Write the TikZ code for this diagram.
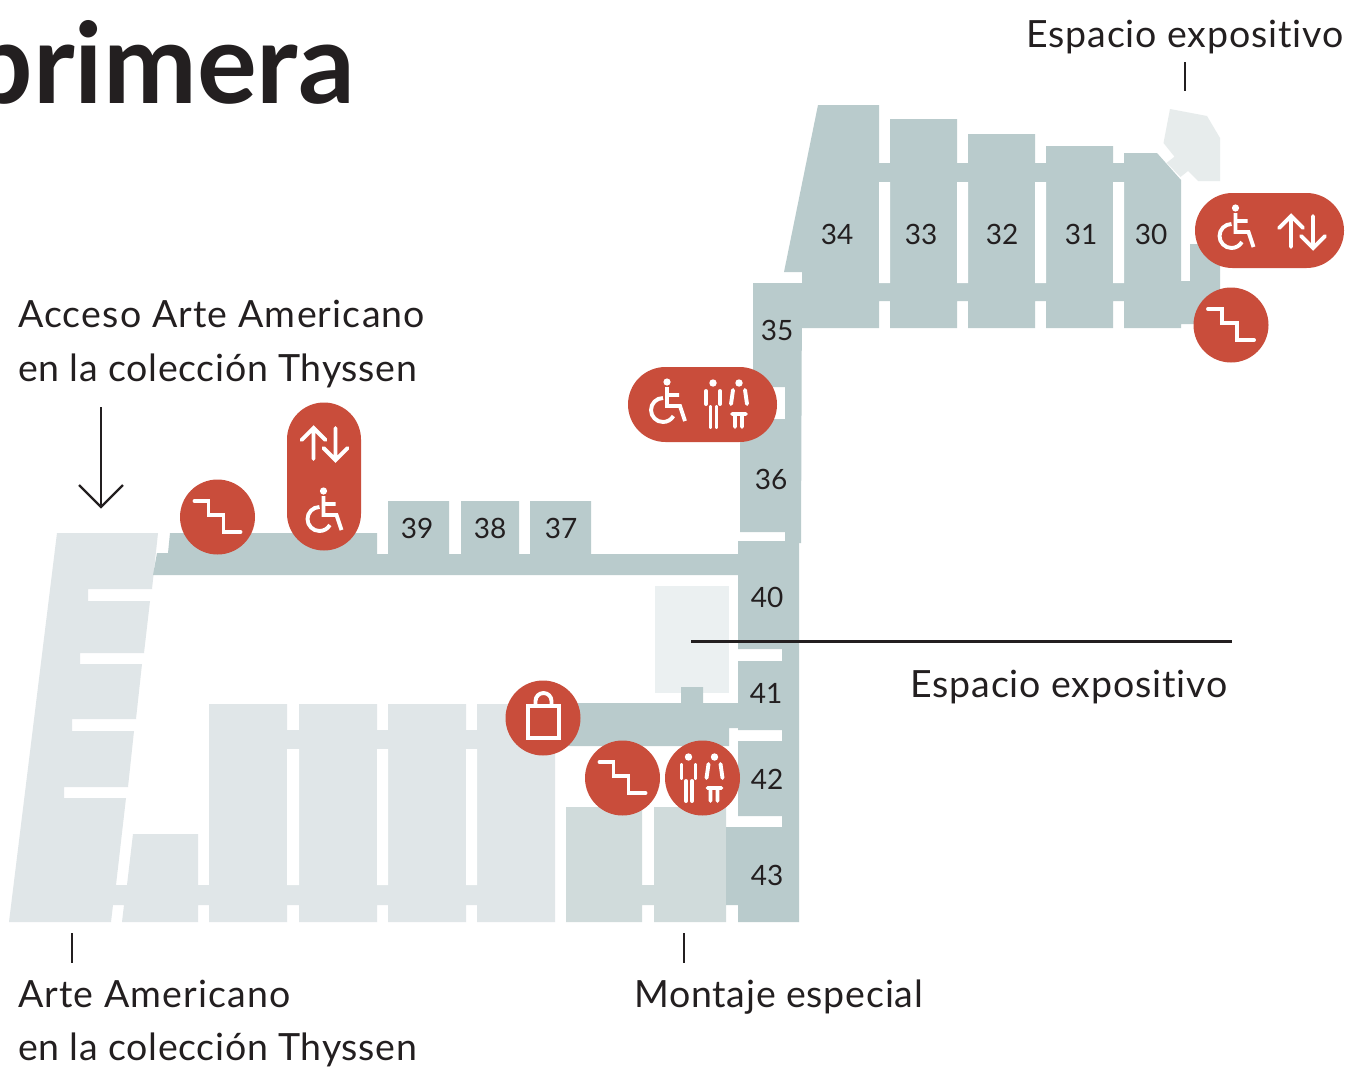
\documentclass[tikz,border=0pt]{standalone}
\usepackage{fontspec}
\setmainfont[Ligatures=NoCommon]{Lato}
\definecolor{roomdark}{HTML}{B9CBCC}
\definecolor{roompale}{HTML}{E0E6E8}
\definecolor{roommid}{HTML}{D0DBDB}
\definecolor{roomlight}{HTML}{EBF0F1}
\definecolor{expo}{HTML}{E7ECEC}
\definecolor{badge}{HTML}{C94D3B}
\definecolor{ink}{HTML}{231F20}
\newcommand{\spaced}[1]{\addfontfeature{LetterSpace=#1}}
\tikzset{
  darkfill/.style={fill=roomdark,draw=none},
  palefill/.style={fill=roompale,draw=none},
  label/.style={anchor=base west,inner sep=0pt,text=ink,font=\fontsize{37.5}{37.5}\selectfont},
  roomno/.style={inner sep=0pt,text=ink,font=\fontsize{28}{28}\selectfont},
  titletext/.style={anchor=base east,inner sep=0pt,text=ink,font=\fontsize{112}{112}\selectfont\bfseries},
  ink line/.style={draw=ink,line width=2.4pt},
  badgedot/.style={circle,fill=badge,draw=none,minimum size=75pt,inner sep=0pt},
  icon/.style={draw=white,line width=3.9pt,line cap=round,line join=miter,fill=none},
  stairsicon/.pic={\draw[icon] (-23,-16)--(-9,-16)--(-9,-2)--(6,-2)--(6,15)--(23,15);},
  arrowsicon/.pic={\draw[icon] (-11,15)--(-11,-16) (-23,-4)--(-11,-16)--(1,-4);
                   \draw[icon] (11,-16)--(11,16) (-1,4)--(11,16)--(23,4);},
  wheelicon/.pic={\fill[white] (0,0) circle[radius=3.6];
     \draw[icon,line cap=butt] (0,5)--(0,24)--(13,24)--(18,39) (0,13)--(12,13);
     \draw[icon,line cap=butt] (-4,16) arc[start angle=270,end angle=30,radius=12];},
  wcicon/.pic={\fill[white] (-14,-21) circle[radius=3.7] (12,-21) circle[radius=3.7];
     \draw[icon] (-21,-13)--(-21,0) (-7,-13)--(-7,0) (-16.5,3)--(-16.5,23) (-10.5,3)--(-10.5,23);
     \draw[icon] (6,-14)--(4,0) (18,-14)--(20,0) (5,10)--(19,10) (8,10)--(8,23) (15,10)--(15,23);},
}
\begin{document}
\begin{tikzpicture}[x=1pt,y=-1pt]
\useasboundingbox (0,0) rectangle (1357,1068);
\fill[white] (0,0) rectangle (1357,1068);

% pale American art wing
\fill[palefill] (57,533)--(158,533)--(152,589)--(88,589)--(88,601)--(150,601)--(144,653)--(80,653)--(80,664)--(142,664)--(136,719)--(72,719)--(72,731)--(134,731)--(128,787)--(64,787)--(64,798)--(126,798)--(116,885)--(127,885)--(133,834)--(198,834)--(198,885)--(209,885)--(209,704)--(287,704)--(287,730)--(299,730)--(299,704)--(377,704)--(377,730)--(388,730)--(388,704)--(466,704)--(466,730)--(477,730)--(477,704)--(555,704)--(555,922)--(477,922)--(477,905)--(466,905)--(466,922)--(388,922)--(388,905)--(377,905)--(377,922)--(299,922)--(299,905)--(287,905)--(287,922)--(209,922)--(209,905)--(198,905)--(198,922)--(122,922)--(124,905)--(113,905)--(111,922)--(9,922)--cycle;
\fill[white] (287,749) rectangle (299,885) (377,749) rectangle (388,885) (466,749) rectangle (477,885);

% special installation rooms
\fill[roommid] (566,807)--(642,807)--(642,885)--(654,885)--(654,807)--(726,807)--(726,922)--(654,922)--(654,905)--(642,905)--(642,922)--(566,922)--cycle;
\fill[roomlight] (655,586) rectangle (729,693);

% top band with 37-39
\fill[darkfill] (170,533)--(377,533)--(377,554)--(388,554)--(388,501)--(449,501)--(449,554)--(461,554)--(461,501)--(519,501)--(519,554)--(530,554)--(530,501)--(591,501)--(591,554)--(745,554)--(745,575)--(153,575)--(157,553)--(168,553)--cycle;
% lower corridor
\fill[darkfill] (543,703)--(681,703)--(681,687)--(703,687)--(703,703)--(745,703)--(745,728)--(729,728)--(729,746)--(543,746)--cycle;
% column 40-43
\fill[darkfill] (738,541)--(799,541)--(799,922)--(738,922)--(738,905)--(726,905)--(726,827)--(782,827)--(782,816)--(738,816)--(738,741)--(782,741)--(782,730)--(738,730)--(738,661)--(782,661)--(782,649)--(738,649)--cycle;
% column 35-36
\fill[darkfill] (753,283)--(802,283)--(801,543)--(785,543)--(785,532)--(740,532)--(740,419)--(785,419)--(785,387)--(753,387)--cycle;

% upper exhibition space
\fill[expo] (1170,109)--(1207,116)--(1220,138)--(1220,181)--(1198,181)--(1188,171)--(1180.5,177)--(1166.7,162.7)--(1174.5,156.7)--(1163.5,143)--cycle;
% upper wing
\fill[darkfill] (818,105)--(879,105)--(879,163)--(890,163)--(890,119)--(957,119)--(957,163)--(968,163)--(968,134)--(1035,134)--(1035,163)--(1046,163)--(1046,146)--(1113,146)--(1113,163)--(1124,163)--(1124,153)--(1157,153)--(1181,180)--(1181,281)--(1190,281)--(1190,244)--(1220,244)--(1220,324)--(1181,324)--(1181,328)--(1124,328)--(1124,301)--(1113,301)--(1113,328)--(1046,328)--(1046,301)--(1035,301)--(1035,328)--(968,328)--(968,301)--(957,301)--(957,328)--(890,328)--(890,301)--(879,301)--(879,328)--(802,328)--(802,283)--(802,272)--(784,272)--cycle;
\fill[white] (879,182) rectangle (890,283) (957,182) rectangle (968,283) (1035,182) rectangle (1046,283) (1113,182) rectangle (1124,283);

% room numbers
\node[roomno] (r34) at (837,234) {34};
\node[roomno] (r33) at (921,234) {33};
\node[roomno] (r32) at (1002,234) {32};
\node[roomno] (r31) at (1081,234) {31};
\node[roomno] (r30) at (1151,234) {30};
\node[roomno] (r35) at (777,330) {35};
\node[roomno] (r36) at (771,479) {36};
\node[roomno] (r39) at (417,528) {39};
\node[roomno] (r38) at (490,528) {38};
\node[roomno] (r37) at (561,528) {37};
\node[roomno] (r40) at (767,597) {40};
\node[roomno] (r41) at (766,693) {41};
\node[roomno] (r42) at (767,779) {42};
\node[roomno] (r43) at (767,875) {43};

% title and labels
\node[titletext] (title) at (355,103) {primera};
\node[label] (l1) at (1026,47) {\spaced{2.35}Espacio expositivo};
\node[label] (l2) at (18,327) {\spaced{3.1}Acceso Arte Americano};
\node[label] (l3) at (18,381) {\spaced{1.85}en la colección Thyssen};
\node[label] (l4) at (910,697) {\spaced{2.35}Espacio expositivo};
\node[label] (l5) at (18,1007) {\spaced{3.0}Arte Americano};
\node[label] (l6) at (18,1060) {\spaced{1.85}en la colección Thyssen};
\node[label] (l7) at (634,1007) {\spaced{2.1}Montaje especial};

% leader lines
\coordinate (t1a) at (1185,62); \coordinate (t1b) at (1185,91);
\coordinate (t2a) at (72,933); \coordinate (t2b) at (72,963);
\coordinate (t3a) at (684,933); \coordinate (t3b) at (684,963);
\coordinate (t4a) at (691,641.5); \coordinate (t4b) at (1232,641.5);
\coordinate (a1) at (101,407); \coordinate (a2) at (101,507);
\coordinate (a3) at (79,485); \coordinate (a4) at (123,485);
\draw[ink line] (t1a)--(t1b);
\draw[ink line] (t2a)--(t2b);
\draw[ink line] (t3a)--(t3b);
\draw[ink line] (t4a)--(t4b);
\draw[ink line] (a1)--(a2);
\draw[ink line] (a3)--(a2)--(a4);

% badges
\fill[badge] (1232.5,193) -- (1306.5,193) arc[start angle=-90,end angle=90,radius=37.5] -- (1232.5,268) arc[start angle=90,end angle=270,radius=37.5] -- cycle;
\fill[badge] (665.5,367) -- (739.5,367) arc[start angle=-90,end angle=90,radius=37.5] -- (665.5,442) arc[start angle=90,end angle=270,radius=37.5] -- cycle;
\fill[badge] (287,439.5) arc[start angle=180,end angle=360,radius=37] -- (361,513.5) arc[start angle=0,end angle=180,radius=37] -- cycle;
\node[badgedot] (b1) at (1231,325) {};
\node[badgedot] (b2) at (217.5,517) {};
\node[badgedot] (b3) at (543,718) {};
\node[badgedot] (b4) at (622.5,778) {};
\node[badgedot] (b5) at (702.5,778) {};

% icons
\pic at (1231,325) {stairsicon};
\pic at (217.5,517) {stairsicon};
\pic at (622.5,778) {stairsicon};
\pic at (702.5,778) {wcicon};
\pic at (727,404) {wcicon};
\pic at (1235.5,208) {wheelicon};
\pic at (667,382) {wheelicon};
\pic at (323.5,491) {wheelicon};
\pic at (1302,232) {arrowsicon};
\pic at (324.5,444) {arrowsicon};
\draw[icon,line cap=butt] (528,706) rectangle (559,738);
\draw[icon,line cap=butt] (535.5,706) -- (535.5,701) arc[start angle=180,end angle=360,radius=8] -- (551.5,706);
\end{tikzpicture}
\end{document}
